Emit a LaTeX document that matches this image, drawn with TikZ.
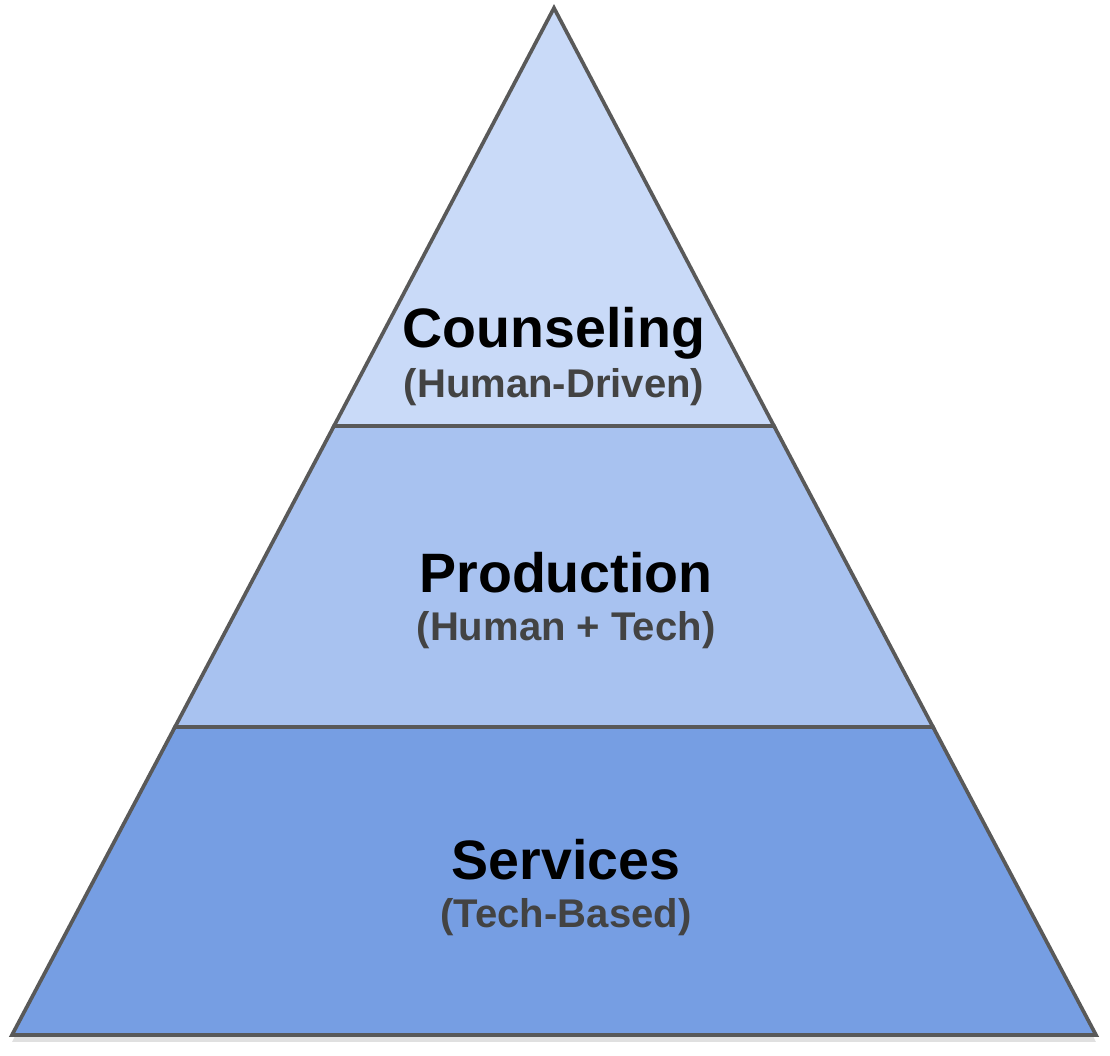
\documentclass[tikz,border=0pt]{standalone}
\usepackage{fontspec}
\setmainfont{Liberation Sans}
\usepackage{tikz}
\usetikzlibrary{calc,shadows}
\definecolor{toptier}{HTML}{C9DAF8}
\definecolor{midtier}{HTML}{A8C2F0}
\definecolor{basetier}{HTML}{769EE3}
\definecolor{edgegray}{HTML}{595959}
\definecolor{subgray}{HTML}{434343}

\begin{document}
\begin{tikzpicture}[
  layer/.style={draw=edgegray, line width=1.05pt},
  title/.style={anchor=base, font=\fontsize{15.8pt}{18pt}\selectfont\bfseries, text=black, inner sep=0pt},
  sub/.style={anchor=base, font=\fontsize{11.4pt}{13pt}\selectfont\bfseries, text=subgray, inner sep=0pt}
]
  \useasboundingbox (0,0) rectangle (11.10,10.56);

  % corners of the pyramid
  \coordinate (apex) at (5.54,10.48);
  \coordinate (bl) at (0.12,0.21);
  \coordinate (br) at (10.96,0.21);
  \coordinate (l1) at (3.34,6.30);
  \coordinate (r1) at (7.74,6.30);
  \coordinate (l2) at (1.75,3.29);
  \coordinate (r2) at (9.33,3.29);

  % soft shadow
  \fill[black, opacity=0.12] ($(apex)+(0,-0.05)$) -- ($(bl)+(0,-0.07)$) -- ($(br)+(0,-0.07)$) -- cycle;

  \filldraw[layer, fill=basetier] (l2) -- (bl) -- (br) -- (r2) -- cycle;
  \filldraw[layer, fill=midtier] (l1) -- (l2) -- (r2) -- (r1) -- cycle;
  \filldraw[layer, fill=toptier] (apex) -- (l1) -- (r1) -- cycle;

  \node[title] (counsel) at (5.54,7.08) {Counseling};
  \node[sub] (counselsub) at (5.54,6.58) {(Human-Driven)};

  \node[title] (prod) at (5.66,4.63) {Production};
  \node[sub] (prodsub) at (5.66,4.15) {(Human + Tech)};

  \node[title] (serv) at (5.66,1.76) {Services};
  \node[sub] (servsub) at (5.66,1.28) {(Tech-Based)};
\end{tikzpicture}
\end{document}
